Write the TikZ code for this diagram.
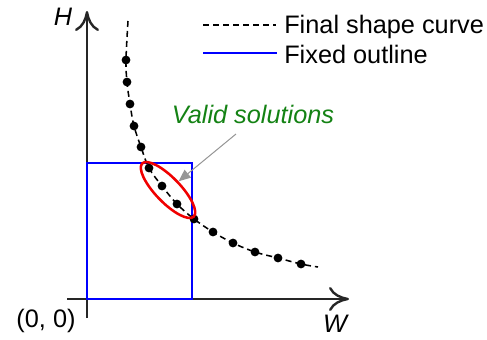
\documentclass[tikz,border=0pt]{standalone}
\usepackage{fontspec}
\setmainfont{Liberation Sans}
\usepackage{xcolor}
\definecolor{olblue}{RGB}{0,0,255}
\definecolor{solred}{RGB}{240,0,0}
\definecolor{solgreen}{RGB}{20,130,20}
\definecolor{ptgray}{RGB}{150,150,150}
\usepackage{tikz}
\usetikzlibrary{shapes.geometric,arrows.meta}

\begin{document}
\begin{tikzpicture}[
  axis/.style={line width=1.7pt,draw=black!85,-{Computer Modern Rightarrow[length=0.5cm,width=0.6cm]}},
  shapecurve/.style={line width=1.1pt,dash pattern=on 0.15cm off 0.1cm},
  outline/.style={line width=1.8pt,draw=olblue},
  solring/.style={ellipse,draw=solred,line width=1.8pt,minimum width=1.85cm,minimum height=0.62cm,inner sep=0pt,rotate=-46},
  pointer/.style={draw=ptgray,line width=0.7pt,-{Triangle[length=0.3cm,width=0.25cm]},fill=ptgray},
  lbl/.style={font=\fontsize{18}{21}\selectfont,inner sep=0pt,anchor=base},
  lgd/.style={font=\fontsize{18}{21}\selectfont,inner sep=0pt,anchor=base west}
]
  \useasboundingbox (-2.175,-1.0) rectangle (10.0,7.475);

  % Axes
  \draw[axis] (-0.5,0) -- (6.55,0);
  \draw[axis] (0,-0.475) -- (0,7.2);
  \node[lbl] (h) at (-0.6,6.85) {\itshape H};
  \node[lbl] (w) at (6.2,-0.825) {\itshape W};
  \node[lbl] (o) at (-1.025,-0.71) {(0, 0)};

  % Fixed outline
  \draw[outline] (0,0) rectangle (2.625,3.4);

  % Final shape curve
  \draw[shapecurve] plot[smooth,tension=0.6] coordinates {
    (1.025,6.95) (0.975,5.975) (1.0,5.425) (1.075,4.875) (1.175,4.325)
    (1.35,3.8) (1.55,3.275) (1.875,2.825) (2.25,2.375) (2.675,2.0)
    (3.15,1.675) (3.65,1.4) (4.2,1.175) (4.775,1.025) (5.35,0.875) (5.775,0.8)};
  \foreach \x/\y in {0.975/5.975,1.0/5.425,1.075/4.875,1.175/4.325,1.35/3.8,
    1.55/3.275,1.875/2.825,2.25/2.375,2.675/2.0,3.15/1.675,3.65/1.4,
    4.2/1.175,4.775/1.025,5.35/0.875}
    \fill (\x,\y) circle (0.11);

  % Valid solutions
  \node[solring] (sol) at (2.025,2.725) {};
  \node[lbl,text=solgreen] (vlbl) at (4.15,4.4) {\itshape Valid solutions};
  \coordinate (vtail) at (3.725,4.125);
  \draw[pointer] (vtail) -- (sol);

  % Legend
  \draw[shapecurve] (2.9,6.85) -- (4.725,6.85);
  \node[lgd] (l1) at (4.925,6.65) {Final shape curve};
  \draw[outline] (2.9,6.15) -- (4.75,6.15);
  \node[lgd] (l2) at (4.925,5.9) {Fixed outline};
\end{tikzpicture}
\end{document}
